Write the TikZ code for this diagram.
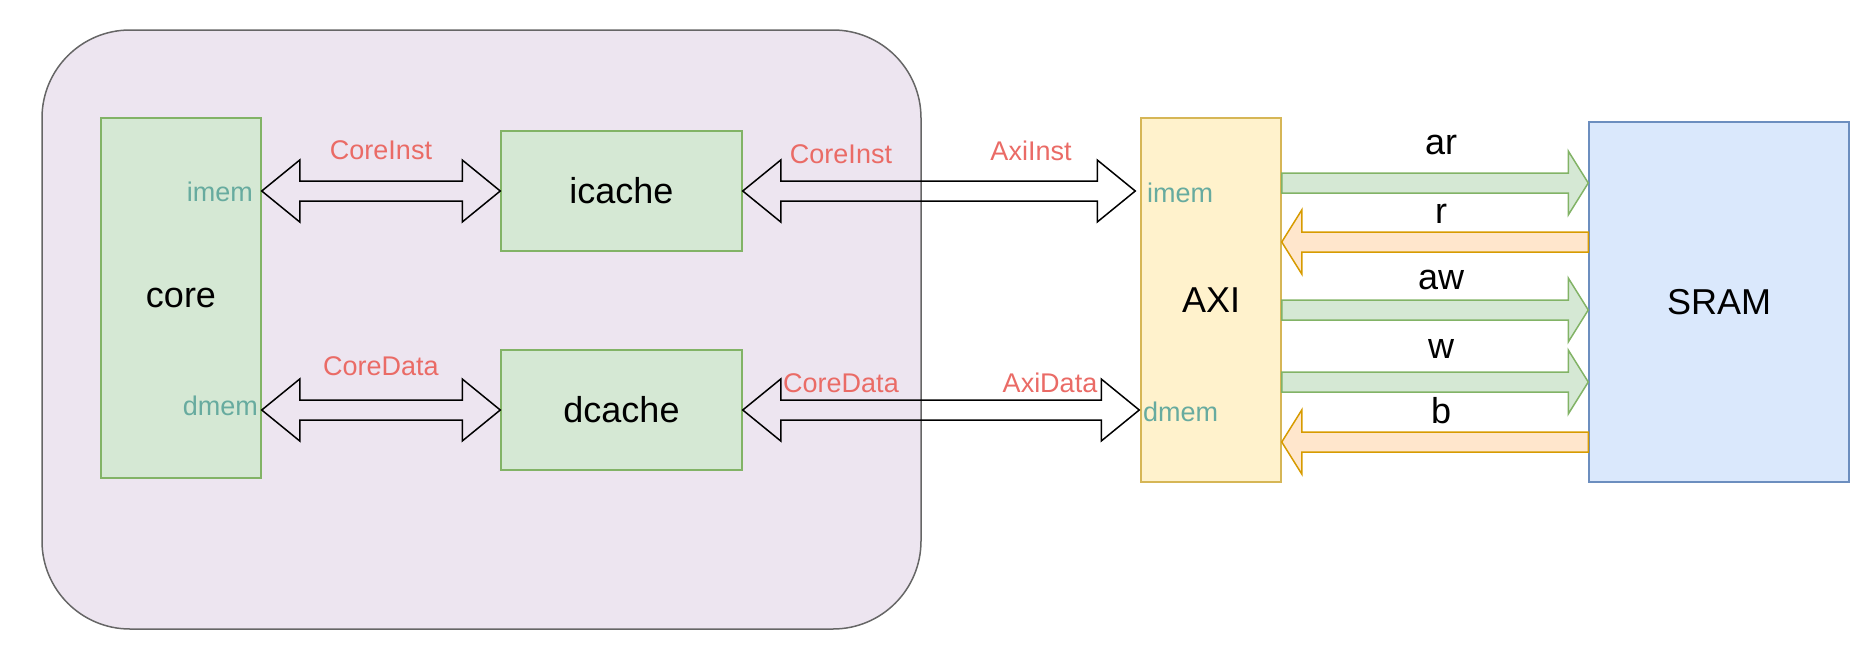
\documentclass[tikz,border=0pt]{standalone}
\usepackage{fontspec}
\setmainfont{Liberation Sans}
\usetikzlibrary{calc}

\definecolor{socfill}{RGB}{237,229,240}
\definecolor{socline}{RGB}{102,102,102}
\definecolor{grfill}{HTML}{D5E8D4}
\definecolor{grline}{HTML}{82B366}
\definecolor{yefill}{HTML}{FFF2CC}
\definecolor{yeline}{HTML}{D6B656}
\definecolor{blfill}{HTML}{DAE8FC}
\definecolor{blline}{HTML}{6C8EBF}
\definecolor{orfill}{HTML}{FFE6CC}
\definecolor{orline}{HTML}{D79B00}
\definecolor{sigred}{HTML}{EA6B66}
\definecolor{portteal}{HTML}{67AB9F}

\tikzset{
  bigtext/.style={font=\fontsize{36}{40}\selectfont},
  smalltext/.style={font=\fontsize{27}{30}\selectfont},
  module/.style={draw=grline, fill=grfill, line width=1.5pt, inner sep=0pt, bigtext},
  sigtext/.style={smalltext, text=sigred, inner sep=0pt, anchor=base},
  porttext/.style={smalltext, text=portteal, inner sep=0pt},
  chantext/.style={bigtext, inner sep=0pt, anchor=base},
  hollow/.style={draw=black, line width=1.5pt, line join=miter},
  wrchan/.style={draw=grline, fill=grfill, line width=1.5pt},
  rdchan/.style={draw=orline, fill=orfill, line width=1.5pt},
}

% outlined two-headed block arrow between two points
\newcommand{\biarrow}[3][hollow]{%
  \draw[#1] let \p1=(#2), \p2=(#3) in
    (\x1,\y1) -- (\x1+38pt,\y1+31pt) -- (\x1+38pt,\y1+10pt)
    -- (\x2-38pt,\y2+10pt) -- (\x2-38pt,\y2+31pt) -- (\x2,\y2)
    -- (\x2-38pt,\y2-31pt) -- (\x2-38pt,\y2-10pt)
    -- (\x1+38pt,\y1-10pt) -- (\x1+38pt,\y1-31pt) -- cycle;}
% single block arrow pointing right: tail #2, tip #3
\newcommand{\rarrow}[3]{%
  \draw[#1] let \p1=(#2), \p2=(#3) in
    (\x1,\y1+10pt) -- (\x2-20pt,\y2+10pt) -- (\x2-20pt,\y2+32pt) -- (\x2,\y2)
    -- (\x2-20pt,\y2-32pt) -- (\x2-20pt,\y2-10pt) -- (\x1,\y1-10pt) -- cycle;}
% single block arrow pointing left: tail #2 (right), tip #3 (left)
\newcommand{\larrow}[3]{%
  \draw[#1] let \p1=(#2), \p2=(#3) in
    (\x1,\y1+10pt) -- (\x2+20pt,\y2+10pt) -- (\x2+20pt,\y2+32pt) -- (\x2,\y2)
    -- (\x2+20pt,\y2-32pt) -- (\x2+20pt,\y2-10pt) -- (\x1,\y1-10pt) -- cycle;}

\begin{document}
\begin{tikzpicture}[x=1pt, y=-1pt]
  \useasboundingbox (0,0) rectangle (1869,651);

  % processor subsystem
  \node[draw=socline, fill=socfill, line width=1.5pt, rounded corners=88pt,
        minimum width=879pt, minimum height=599pt, inner sep=0pt] (soc) at (481.5,329.5) {};

  \node[module, minimum width=160pt, minimum height=360pt] (core) at (181,298) {core};
  \node[module, minimum width=241pt, minimum height=120pt] (icache) at (621.5,191) {icache};
  \node[module, minimum width=241pt, minimum height=120pt] (dcache) at (621.5,410) {dcache};

  \node[draw=yeline, fill=yefill, line width=1.5pt, inner sep=0pt, bigtext,
        minimum width=140pt, minimum height=364pt] (axi) at (1211,300) {AXI};
  \node[draw=blline, fill=blfill, line width=1.5pt, inner sep=0pt, bigtext,
        minimum width=260pt, minimum height=360pt] (sram) at (1719,302) {SRAM};

  % port names
  \node[porttext, anchor=base east] (cimem) at (253,201) {imem};
  \node[porttext, anchor=base east] (cdmem) at (258,415) {dmem};
  \node[porttext, anchor=base west] (aimem) at (1147,202) {imem};
  \node[porttext, anchor=base west] (admem) at (1143,421) {dmem};

  % core <-> caches
  \biarrow{core.east |- icache.west}{icache.west}
  \biarrow{core.east |- dcache.west}{dcache.west}
  % caches <-> AXI
  \coordinate (axiinst) at ($(axi.west |- icache.east)+(-5,0)$);
  \coordinate (axidata) at ($(axi.west |- dcache.east)+(-1,0)$);
  \biarrow{icache.east}{axiinst}
  \biarrow{dcache.east}{axidata}

  % bus signal names
  \node[sigtext] (l1) at (381,159) {CoreInst};
  \node[sigtext] (l2) at (381,375) {CoreData};
  \node[sigtext] (l3) at (841,163) {CoreInst};
  \node[sigtext] (l4) at (1031,160) {AxiInst};
  \node[sigtext] (l5) at (841,392) {CoreData};
  \node[sigtext] (l6) at (1050,392) {AxiData};

  % AXI channels
  \rarrow{wrchan}{axi.east |- 0,183}{sram.west |- 0,183}
  \larrow{rdchan}{sram.west |- 0,242}{axi.east |- 0,242}
  \rarrow{wrchan}{axi.east |- 0,310}{sram.west |- 0,310}
  \rarrow{wrchan}{axi.east |- 0,382}{sram.west |- 0,382}
  \larrow{rdchan}{sram.west |- 0,442}{axi.east |- 0,442}

  \node[chantext] (ar) at (1441,154) {ar};
  \node[chantext] (r)  at (1441,223) {r};
  \node[chantext] (aw) at (1441,289) {aw};
  \node[chantext] (w)  at (1441,358) {w};
  \node[chantext] (b)  at (1441,423) {b};
\end{tikzpicture}
\end{document}
